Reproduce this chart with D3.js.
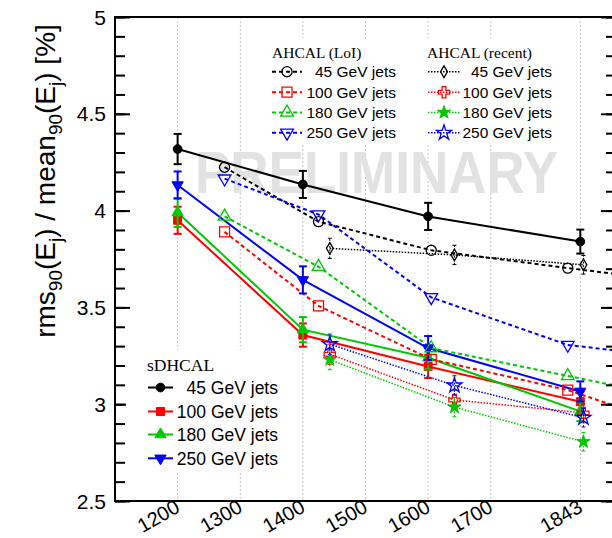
<!DOCTYPE html>
<html><head><meta charset="utf-8">
<script src="https://cdn.jsdelivr.net/npm/d3@7"></script>
<style>body{margin:0;background:#fff} svg{display:block}</style>
</head><body>
<script>
// ---------------- data ----------------
const energyLabels = ["45 GeV jets", "100 GeV jets", "180 GeV jets", "250 GeV jets"];
const xTickValues = [1200, 1300, 1400, 1500, 1600, 1700, 1843];
const yTickValues = [2.5, 3, 3.5, 4, 4.5, 5];

// sDHCAL (solid, filled markers, error bars)
const sdhcalX = [1200, 1400, 1600, 1843];
const sdhcal45  = [4.318, 4.135, 3.970, 3.840];
const sdhcal100 = [3.950, 3.357, 3.195, 3.013];
const sdhcal180 = [3.990, 3.385, 3.240, 2.963];
const sdhcal250 = [4.132, 3.642, 3.290, 3.066];
const sdhcalErr45  = [0.078, 0.070, 0.070, 0.062];
const sdhcalErr100 = [0.070, 0.060, 0.060, 0.050];
const sdhcalErr180 = [0.075, 0.065, 0.060, 0.050];
const sdhcalErr250 = [0.070, 0.070, 0.062, 0.052];

// AHCAL (LoI) (dashed, open markers); last point lies beyond the right edge
const loiX = [1275, 1425, 1605, 1823, 2000];
const loi45  = [4.224, 3.943, 3.795, 3.703, 3.633];
const loi100 = [3.890, 3.508, 3.232, 3.073, 2.880];
const loi180 = [3.970, 3.710, 3.290, 3.146, 3.030];
const loi250 = [4.165, 3.980, 3.552, 3.306, 3.240];

// AHCAL (recent) (dotted, small error bars)
const recentX = [1443, 1642, 1848];
const recent45  = [3.805, 3.771, 3.720];
const recent100 = [3.258, 3.022, 2.955];
const recent180 = [3.230, 2.985, 2.806];
const recent250 = [3.310, 3.097, 2.930];
const recentErr = [0.052, 0.050, 0.048];

// ---------------- styles ----------------
const colors = ["#000000", "#ff0000", "#00c800", "#0000ff"];
const W = 612, H = 538;
const M = {left: 115, right: 616, top: 17, bottom: 501};

const svg = d3.select("body").append("svg").attr("width", W).attr("height", H)
  .style("font-family", "'Liberation Sans', Arial, sans-serif");

const x = d3.scaleLinear().domain([1100, 1900]).range([M.left, M.right]);
const y = d3.scaleLinear().domain([2.5, 5]).range([M.bottom, M.top]);

svg.append("defs").append("clipPath").attr("id", "clip")
  .append("rect").attr("x", M.left).attr("y", M.top)
  .attr("width", M.right - M.left).attr("height", M.bottom - M.top);

// grid lines (vertical, dotted)
svg.append("g").selectAll("line").data(xTickValues).join("line")
  .attr("x1", d => x(d)).attr("x2", d => x(d))
  .attr("y1", M.top).attr("y2", M.bottom)
  .attr("stroke", "#c4c4c4").attr("stroke-width", 1).attr("stroke-dasharray", "2,2");

// watermark
svg.append("text").attr("transform", "translate(195,193) scale(1,1.1)")
  .attr("font-size", 53).attr("font-weight", "bold").attr("fill", "#e2e2e2")
  .text("PRELIMINARY");

// ---------------- symbols ----------------
function symPath(kind, size) {
  const map = {
    circle: d3.symbolCircle, square: d3.symbolSquare, triUp: d3.symbolTriangle,
    triDown: d3.symbolTriangle, diamond: d3.symbolDiamond, star: d3.symbolStar,
    cross: d3.symbolCross
  };
  return d3.symbol(map[kind], size)();
}
function drawMarker(g, kind, size, cx, cy, color, filled, sw) {
  g.append("path").attr("d", symPath(kind, size))
    .attr("transform", `translate(${cx},${cy})` + (kind === "triDown" ? " rotate(180)" : ""))
    .attr("fill", filled ? color : "none")
    .attr("stroke", color).attr("stroke-width", sw);
}

const groups = [
  { xs: sdhcalX, ys: [sdhcal45, sdhcal100, sdhcal180, sdhcal250],
    errs: [sdhcalErr45, sdhcalErr100, sdhcalErr180, sdhcalErr250],
    dash: null, width: 2, errDash: null, errWidth: 2, cap: 4,
    markers: [["circle", 60, true], ["square", 64, true], ["triUp", 55, true], ["triDown", 55, true]] },
  { xs: loiX, ys: [loi45, loi100, loi180, loi250], errs: null,
    dash: "4,3", width: 2,
    markers: [["circle", 80, false], ["square", 100, false], ["triUp", 70, false], ["triDown", 70, false]] },
  { xs: recentX, ys: [recent45, recent100, recent180, recent250],
    errs: [recentErr, recentErr, recentErr, recentErr],
    dash: "1.5,1.5", width: 1.5, errDash: "2,1.5", errWidth: 1, cap: 2,
    markers: [["diamond", 40, false], ["cross", 70, false], ["star", 55, true], ["star", 70, false]] }
];

const plot = svg.append("g").attr("clip-path", "url(#clip)");
const line = d3.line().x(d => x(d[0])).y(d => y(d[1]));

groups.forEach(gr => {
  gr.ys.forEach((vals, i) => {
    const pts = gr.xs.map((xv, k) => [xv, vals[k]]);
    plot.append("path").datum(pts).attr("d", line)
      .attr("fill", "none").attr("stroke", colors[i])
      .attr("stroke-width", gr.width)
      .attr("stroke-dasharray", gr.dash);
  });
});
groups.forEach(gr => {
  gr.ys.forEach((vals, i) => {
    const g = plot.append("g");
    if (gr.errs) {
      gr.xs.forEach((xv, k) => {
        const e = gr.errs[i][k];
        const cx = x(xv), y1 = y(vals[k] - e), y2 = y(vals[k] + e);
        g.append("line").attr("x1", cx).attr("x2", cx).attr("y1", y1).attr("y2", y2)
          .attr("stroke", colors[i]).attr("stroke-width", gr.errWidth).attr("stroke-dasharray", gr.errDash);
        [y1, y2].forEach(yy => g.append("line")
          .attr("x1", cx - gr.cap).attr("x2", cx + gr.cap).attr("y1", yy).attr("y2", yy)
          .attr("stroke", colors[i]).attr("stroke-width", gr.errWidth));
      });
    }
    const [kind, size, filled] = gr.markers[i];
    gr.xs.forEach((xv, k) => drawMarker(g, kind, size, x(xv), y(vals[k]), colors[i], filled, filled ? 1 : 1.3));
  });
});

// ---------------- axes ----------------
svg.append("rect").attr("x", M.left).attr("y", M.top)
  .attr("width", M.right - M.left).attr("height", M.bottom - M.top)
  .attr("fill", "none").attr("stroke", "#000").attr("stroke-width", 2);

const minorVals = d3.range(26).map(i => 2.5 + i * 0.1);
const yAxisL = d3.axisRight(y).tickValues(yTickValues).tickSize(15).tickFormat("");
const yAxisLminor = d3.axisRight(y).tickValues(minorVals).tickSize(10).tickFormat("");
const yAxisR = d3.axisLeft(y).tickValues(yTickValues).tickSize(15).tickFormat("");
const yAxisRminor = d3.axisLeft(y).tickValues(minorVals).tickSize(10).tickFormat("");
[[yAxisL, M.left], [yAxisLminor, M.left], [yAxisR, M.right], [yAxisRminor, M.right]].forEach(([ax, px]) => {
  const g = svg.append("g").attr("transform", `translate(${px},0)`).call(ax);
  g.select(".domain").remove();
  g.selectAll("line").attr("stroke", "#000").attr("stroke-width", 2);
});

// y tick labels
svg.append("g").selectAll("text").data(yTickValues).join("text")
  .attr("x", 106).attr("y", d => y(d)).attr("dy", "0.36em")
  .attr("text-anchor", "end").attr("font-size", 21)
  .text(d => d3.format("")(d));

// x tick labels (rotated)
const xAxis = d3.axisBottom(x).tickValues(xTickValues).tickSize(0).tickFormat(d => String(d));
const gx = svg.append("g").attr("transform", `translate(0,${M.bottom})`).call(xAxis);
gx.select(".domain").remove();
gx.selectAll("text")
  .attr("font-size", 20).attr("font-family", "'Liberation Sans', Arial, sans-serif")
  .attr("fill", "#000")
  .attr("text-anchor", "end").attr("dy", null).attr("y", null)
  .attr("transform", "translate(3,10) rotate(-30)");

// y title
const yt = svg.append("text").attr("transform", "translate(55,181) rotate(-90)")
  .attr("text-anchor", "middle").attr("font-size", 28);
yt.append("tspan").text("rms");
yt.append("tspan").attr("font-size", 19).attr("dy", 7).text("90");
yt.append("tspan").attr("dy", -7).text("(E");
yt.append("tspan").attr("font-size", 19).attr("dy", 7).text("j");
yt.append("tspan").attr("dy", -7).text(") / mean");
yt.append("tspan").attr("font-size", 19).attr("dy", 7).text("90");
yt.append("tspan").attr("dy", -7).text("(E");
yt.append("tspan").attr("font-size", 19).attr("dy", 7).text("j");
yt.append("tspan").attr("dy", -7).text(") [%]");

// ---------------- legends ----------------
const serif = "'Liberation Serif', 'Times New Roman', serif";
// top legend
svg.append("rect").attr("x", 252).attr("y", 38).attr("width", 316).attr("height", 107).attr("fill", "#fff");
const topRows = [71.7, 92.2, 112.5, 132.8];
[[272, "AHCAL (LoI)"], [427, "AHCAL (recent)"]].forEach(([tx, t]) =>
  svg.append("text").attr("x", tx).attr("y", 58).attr("font-family", serif).attr("font-size", 15.5).text(t));
const legTop = svg.append("g");
[{grp: groups[1], x1: 272, x2: 302, mx: 287, tx: 396},
 {grp: groups[2], x1: 428, x2: 460, mx: 444, tx: 552}].forEach(c => {
  energyLabels.forEach((lab, i) => {
    const cy = topRows[i];
    legTop.append("line").attr("x1", c.x1).attr("x2", c.x2).attr("y1", cy).attr("y2", cy)
      .attr("stroke", colors[i]).attr("stroke-width", c.grp.width).attr("stroke-dasharray", c.grp.dash);
    const [kind, size, filled] = c.grp.markers[i];
    drawMarker(legTop, kind, size, c.mx, cy, colors[i], filled, filled ? 1 : 1.3);
    legTop.append("text").attr("x", c.tx).attr("y", cy).attr("dy", "0.36em")
      .attr("text-anchor", "end").attr("font-size", 15.5).text(lab);
  });
});

// bottom legend
svg.append("rect").attr("x", 126).attr("y", 350).attr("width", 162).attr("height", 121).attr("fill", "#fff");
svg.append("text").attr("x", 147).attr("y", 371).attr("font-family", serif).attr("font-size", 17.5).text("sDHCAL");
const botRows = [387.5, 411.5, 434.5, 458.3];
const legBot = svg.append("g");
energyLabels.forEach((lab, i) => {
  const cy = botRows[i];
  legBot.append("line").attr("x1", 148).attr("x2", 173).attr("y1", cy).attr("y2", cy)
    .attr("stroke", colors[i]).attr("stroke-width", 2);
  const [kind, size, filled] = groups[0].markers[i];
  drawMarker(legBot, kind, size, 160.5, cy, colors[i], filled, 1);
  legBot.append("text").attr("x", 278).attr("y", cy).attr("dy", "0.36em")
    .attr("text-anchor", "end").attr("font-size", 17.5).text(lab);
});
</script>
</body></html>
